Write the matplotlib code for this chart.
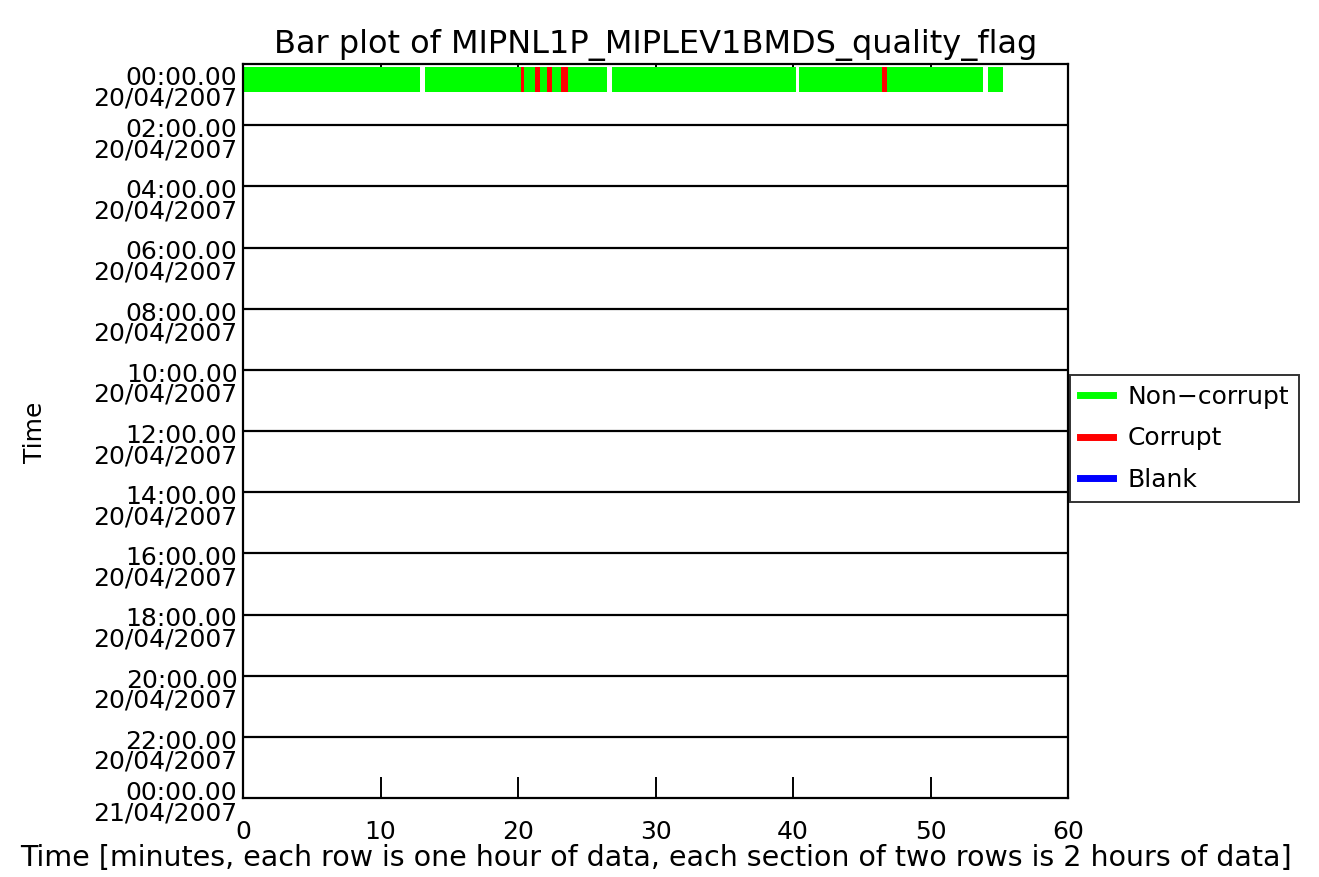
import matplotlib
matplotlib.use('Agg')
import matplotlib.pyplot as plt
import matplotlib.transforms as mtransforms
from matplotlib.lines import Line2D

# segments of the first hour row: start minute, end minute, flag
seg_start = [0.0, 13.2, 20.2, 20.4, 21.2, 21.6, 22.1, 22.5, 23.1, 23.6, 26.8, 40.4, 46.5, 46.8, 54.2]
seg_end = [12.9, 20.2, 20.4, 21.2, 21.6, 22.1, 22.5, 23.1, 23.6, 26.5, 40.2, 46.5, 46.8, 53.8, 55.3]
seg_flag = ['ok', 'ok', 'bad', 'ok', 'bad', 'ok', 'bad', 'ok', 'bad', 'ok', 'ok', 'ok', 'bad', 'ok', 'ok']
seg_row = [0] * 15

hours = [0, 2, 4, 6, 8, 10, 12, 14, 16, 18, 20, 22, 24]
tick_labels = ['00:00.00\n20/04/2007', '02:00.00\n20/04/2007', '04:00.00\n20/04/2007',
               '06:00.00\n20/04/2007', '08:00.00\n20/04/2007', '10:00.00\n20/04/2007',
               '12:00.00\n20/04/2007', '14:00.00\n20/04/2007', '16:00.00\n20/04/2007',
               '18:00.00\n20/04/2007', '20:00.00\n20/04/2007', '22:00.00\n20/04/2007',
               '00:00.00\n21/04/2007']

colors = {'ok': '#00ff00', 'bad': '#ff0000', 'blank': '#0000ff'}

fig = plt.figure(figsize=(13.19, 8.77), dpi=100)
ax = fig.add_axes([243 / 1319, 1 - 798 / 877, 825 / 1319, 734 / 877])

for s, e, f, r in zip(seg_start, seg_end, seg_flag, seg_row):
    ax.barh(r + 0.5, e - s, left=s, height=0.8, color=colors[f], linewidth=0)

for h in hours[1:-1]:
    ax.axhline(h, color='black', linewidth=1.6)

ax.set_xlim(0, 60)
ax.set_ylim(24, 0)
ax.set_xticks([0, 10, 20, 30, 40, 50, 60])
ax.set_xticklabels(['0', '10', '20', '30', '40', '50', '60'], fontsize=18)
ax.tick_params(axis='x', direction='in', length=15, width=1.4, pad=16)
top = ax.secondary_xaxis('top')
top.set_xticks([0, 10, 20, 30, 40, 50, 60])
top.tick_params(direction='in', length=5, width=1.4, labeltop=False)
top.spines['top'].set_visible(False)

ax.set_yticks(hours)
ax.set_yticklabels(tick_labels, fontsize=18, linespacing=0.8, va='center')
ax.tick_params(axis='y', length=0, pad=4)
shifts = [24] + [15] * 11 + [5]
for lab, sh in zip(ax.get_yticklabels(), shifts):
    off = mtransforms.ScaledTranslation(0, -sh / 100, fig.dpi_scale_trans)
    lab.set_transform(lab.get_transform() + off)
for sp in ax.spines.values():
    sp.set_linewidth(1.6)

ax.set_title('Bar plot of MIPNL1P_MIPLEV1BMDS_quality_flag', fontsize=23, pad=8)
ax.set_xlabel('Time [minutes, each row is one hour of data, each section of two rows is 2 hours of data]',
              fontsize=20.5, labelpad=0)
fig.text(35 / 1319, 1 - 432 / 877, 'Time', rotation=90, fontsize=18, ha='center', va='center')

handles = [Line2D([], [], color=colors['ok'], linewidth=5),
           Line2D([], [], color=colors['bad'], linewidth=5),
           Line2D([], [], color=colors['blank'], linewidth=5)]
leg = fig.legend(handles, ['Non\u2212corrupt', 'Corrupt', 'Blank'], loc='upper left',
                 bbox_to_anchor=(1070 / 1319, 1 - 375 / 877), fontsize=18, frameon=True,
                 fancybox=False, edgecolor='black', handlelength=1.3, borderpad=0.4,
                 labelspacing=0.7, handletextpad=0.6, borderaxespad=0)
leg.get_frame().set_linewidth(1.4)

fig.savefig('out.png', dpi=100)
